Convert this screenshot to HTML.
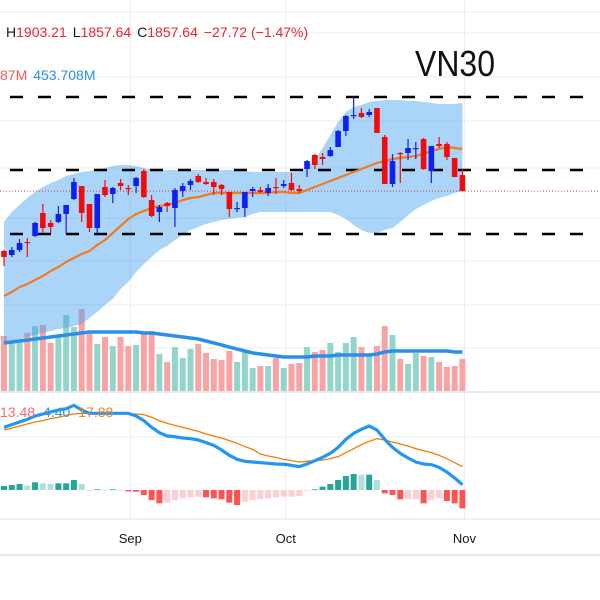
<!DOCTYPE html>
<html><head><meta charset="utf-8"><style>
html,body{margin:0;padding:0;background:#fff;width:600px;height:600px;overflow:hidden}
svg{display:block;font-family:"Liberation Sans",sans-serif}
</style></head><body>
<svg id="chart" width="600" height="600" viewBox="0 0 600 600" xmlns="http://www.w3.org/2000/svg">
<defs><clipPath id="mainClip"><rect x="0" y="0" width="600" height="391"/></clipPath></defs>
<g id="grid"></g>
<g id="vol"></g>
<g id="main" clip-path="url(#mainClip)"></g>
<g id="macd"></g>
<g id="axis"></g>
<text x="6" y="37" font-size="14" fill="#131722"><tspan>H</tspan><tspan fill="#e8262b">1903.21</tspan><tspan dx="6">L</tspan><tspan fill="#e8262b">1857.64</tspan><tspan dx="6">C</tspan><tspan fill="#e8262b">1857.64</tspan><tspan dx="6" fill="#e8262b">−27.72 (−1.47%)</tspan></text>
<text x="0" y="80" font-size="14"><tspan fill="#f05a5a">87M</tspan><tspan dx="6" fill="#2a8ff0">453.708M</tspan></text>
<text x="415" y="76" font-size="36" textLength="80" lengthAdjust="spacingAndGlyphs" fill="#111">VN30</text>
<text x="0" y="417" font-size="14"><tspan fill="#f26b73">13.48</tspan><tspan dx="8" fill="#3d8ee6">4.40</tspan><tspan dx="8" fill="#f08020">17.88</tspan></text>
</svg>
<script>
const opens=[1738,1730,1740,1756,1768,1814,1794,1796,1812,1842,1868,1832,1784,1866,1852,1874,1864,1868,1898,1840,1816,1834,1824,1858,1870,1888,1876,1876,1870,1856,1822,1824,1858,1860,1854,1866,1868,1874,1862,1902,1930,1926,1928,1946,1978,2008,2014,2010,2024,1966,1872,1934,1934,1942,1962,1898,1952,1952,1924,1890];
const highs=[1740,1746,1762,1764,1796,1832,1800,1828,1830,1884,1868,1832,1852,1880,1866,1882,1870,1886,1902,1850,1830,1836,1864,1874,1882,1892,1884,1882,1872,1856,1836,1856,1866,1866,1872,1884,1880,1894,1870,1920,1932,1934,1946,1980,2010,2046,2024,2022,2024,1970,1932,1936,1962,1956,1964,1948,1966,1956,1924,1902];
const lows=[1708,1726,1736,1726,1766,1774,1774,1794,1772,1840,1796,1776,1772,1846,1834,1860,1850,1854,1844,1806,1796,1816,1786,1846,1860,1874,1870,1850,1850,1806,1816,1806,1846,1854,1848,1852,1864,1858,1854,1886,1902,1910,1926,1946,1968,2002,2004,2006,1974,1872,1866,1874,1920,1922,1900,1874,1944,1920,1886,1858];
const closes=[1726,1740,1754,1754,1794,1784,1786,1812,1830,1876,1814,1784,1852,1850,1864,1868,1862,1884,1846,1808,1826,1828,1860,1868,1878,1876,1872,1866,1862,1822,1824,1856,1862,1856,1864,1864,1872,1860,1858,1918,1910,1922,1940,1978,2008,2010,2006,2016,1974,1872,1918,1932,1944,1944,1902,1948,1948,1926,1886,1858];
const maValues=[1648,1656,1666,1672,1680,1688,1698,1706,1716,1724,1732,1738,1750,1760,1774,1788,1802,1812,1818,1824,1828,1830,1834,1840,1844,1846,1850,1854,1854,1854,1854,1854,1854,1854,1854,1856,1856,1854,1854,1860,1866,1872,1878,1884,1890,1896,1902,1908,1914,1918,1922,1924,1926,1928,1932,1938,1942,1946,1944,1942];
const bandUpper=[1796,1816,1830,1844,1856,1866,1874,1880,1888,1892,1896,1898,1900,1904,1908,1910,1910,1908,1904,1900,1900,1900,1900,1900,1900,1900,1900,1900,1900,1900,1900,1898,1896,1896,1896,1896,1896,1896,1896,1908,1920,1944,1970,1996,2016,2026,2030,2036,2038,2040,2040,2040,2038,2038,2036,2034,2032,2032,2032,2034];
const bandLower=[1556,1558,1562,1566,1570,1574,1578,1582,1584,1588,1592,1604,1616,1630,1642,1662,1676,1696,1712,1726,1740,1748,1760,1770,1780,1786,1792,1796,1800,1802,1804,1806,1812,1816,1816,1816,1816,1816,1816,1816,1816,1816,1816,1810,1802,1790,1780,1774,1774,1780,1784,1796,1810,1822,1830,1838,1844,1848,1854,1858];
const volumes=[638,568,568,673,754,766,557,626,882,742,951,673,545,626,522,626,522,534,684,696,429,336,510,383,487,545,441,371,360,464,336,464,267,290,290,383,267,313,325,510,452,476,557,452,557,626,510,418,522,754,650,371,313,441,406,394,336,278,290,371];
const volUp=[0,1,1,0,1,0,0,1,1,1,0,0,1,0,1,0,0,1,0,0,1,0,1,1,1,0,0,0,0,0,1,1,1,0,1,0,1,0,0,1,0,0,1,1,1,1,0,1,0,0,1,0,1,1,0,1,0,0,0,0];
const volMA=[557,568,580,592,603,615,626,638,650,661,673,684,684,684,684,684,684,684,673,673,661,650,638,626,615,603,580,557,534,510,487,464,441,429,418,406,394,394,394,394,406,406,406,418,418,418,418,418,429,452,464,464,464,464,464,464,464,464,452,452];
const macdLine=[47,49,51,53,55.5,57,58.5,60,61,63.5,60,57.5,57.5,57.5,57.5,57.5,57.5,55.5,52,47,43,40.5,40,39,38.5,37.5,35.5,33.5,30,26,23,21.5,21,20.5,20,19.5,19.3,18.5,17.5,19.5,22,24.5,27.5,32,38,42.5,45.5,48,45,38,32,27.5,24,21,19.5,19,17,13.5,9,4];
const signalLine=[45,46.5,48,49.5,51,52,53.5,54.5,56,57,57.5,57.5,57.5,57.5,57.5,57,57,57,56.5,54.5,52,50,48.5,47,45.5,44,42,40.5,39,37,35,32.5,30.5,27,25.5,24.5,23,22,21,21.5,22,22.5,23.5,25,28,31,34,36.5,38.5,37.5,36,34.5,33,31,29.5,28,26,23.5,20.5,17.5];
const histValues=[3,3.75,4.5,3.25,5.75,5,4.5,5,5,7.5,4.5,0,0.5,0.25,0.5,0.25,-1,-1.25,-3.75,-7.5,-10,-9.5,-7.5,-6.25,-5.5,-5,-5.5,-6.25,-7,-9.5,-11.25,-8.75,-7.5,-6.75,-6.25,-5.5,-5,-5,-4.5,-0.5,0.5,2.5,4.5,7.5,10.5,12,11.5,11.5,7.5,-2.5,-3.75,-7,-7,-7,-10,-7.5,-6.25,-8.25,-10,-13.75];
const levelLines=[2046,1900,1772];
const lastPrice=1857.64;
const monthLabels=["Sep","Oct","Nov"];
const monthIndex=[16,36,59];

const NS="http://www.w3.org/2000/svg";
function xOf(i){return 4+i*7.77;}
function yPrice(p){return (2240-p)/2;}
function yVol(v){return 391-v/11.6;}
function yMacd(v){return 490-v/0.75;}
function mk(tag,attrs,parent){const e=document.createElementNS(NS,tag);for(const k in attrs)e.setAttribute(k,attrs[k]);parent.appendChild(e);return e;}
const grid=document.getElementById('grid'),main=document.getElementById('main'),vol=document.getElementById('vol'),macd=document.getElementById('macd'),axis=document.getElementById('axis');

[12,33,77,121,168,218,261,305,348,437].forEach(y=>{
  const l=mk('line',{x1:0,x2:600,y1:y,y2:y,stroke:'#ececf0','stroke-width':1},grid);
  
  
});
monthIndex.forEach(i=>{
  const l=mk('line',{x1:xOf(i)+2,x2:xOf(i)+2,y1:0,y2:519,stroke:'#ececf0','stroke-width':1},grid);
  
  
});
const sep=mk('line',{x1:0,x2:600,y1:392,y2:392,stroke:'#e4e4e8','stroke-width':1.5},grid);



volumes.forEach((v,i)=>{
  const r=mk('rect',{x:xOf(i)-3,y:yVol(v),width:6,height:391-yVol(v),fill:volUp[i]?'#93d5cb':'#f9a3a5'},vol);
  
  
});
const vma=mk('path',{d:volMA.map((v,i)=>(i?'L':'M')+xOf(i)+','+yVol(v)).join(''),fill:'none',stroke:'#2a8fe8','stroke-width':3.5,'stroke-linejoin':'round'},vol);



let bd='M'+bandUpper.map((v,i)=>xOf(i)+','+yPrice(v)).join('L');
for(let i=bandLower.length-1;i>=0;i--)bd+='L'+xOf(i)+','+yPrice(bandLower[i]);
const band=mk('path',{d:bd+'Z',fill:'rgba(66,160,240,0.45)',stroke:'none'},main);



levelLines.forEach(p=>{
  const l=mk('line',{x1:10,x2:590,y1:yPrice(p),y2:yPrice(p),stroke:'#000','stroke-width':2.6,'stroke-dasharray':'13 15'},main);
  
  
});
const lp=mk('line',{x1:0,x2:600,y1:yPrice(lastPrice),y2:yPrice(lastPrice),stroke:'#e53935','stroke-width':1,'stroke-dasharray':'1 2'},main);



const ma=mk('path',{d:maValues.map((v,i)=>(i?'L':'M')+xOf(i)+','+yPrice(v)).join(''),fill:'none',stroke:'#f27a21','stroke-width':2.2,'stroke-linejoin':'round'},main);



opens.forEach((o,i)=>{
  const c=closes[i],up=c>=o,col=up?'#1020f0':'#f00c0c',x=xOf(i);
  const g=mk('g',{},main);
  
  
  mk('line',{x1:x,x2:x,y1:yPrice(highs[i]),y2:yPrice(lows[i]),stroke:col,'stroke-width':1.2},g);
  const t=yPrice(Math.max(o,c)),b=yPrice(Math.min(o,c));
  mk('rect',{x:x-2.8,y:t,width:5.6,height:Math.max(1.2,b-t),fill:col},g);
});

histValues.forEach((h,i)=>{
  const prev=i?histValues[i-1]:h;
  let col;
  if(h>=0)col=h>=prev?'#26a69a':'#b2dfdb';else col=h<prev?'#ff5252':'#ffcdd2';
  const y0=yMacd(0),y1=yMacd(h);
  const r=mk('rect',{x:xOf(i)-3,y:Math.min(y0,y1),width:6,height:Math.max(0.8,Math.abs(y1-y0)),fill:col},macd);
  
  
});
const sig=mk('path',{d:signalLine.map((v,i)=>(i?'L':'M')+xOf(i)+','+yMacd(v)).join(''),fill:'none',stroke:'#f57c00','stroke-width':1.3},macd);


const ml=mk('path',{d:macdLine.map((v,i)=>(i?'L':'M')+xOf(i)+','+yMacd(v)).join(''),fill:'none',stroke:'#2196f3','stroke-width':3.2,'stroke-linejoin':'round'},macd);



const al=mk('line',{x1:0,x2:600,y1:519,y2:519,stroke:'#e4e4e8','stroke-width':1},axis);


const bl=mk('line',{x1:0,x2:600,y1:555,y2:555,stroke:'#e8e8ec','stroke-width':2},axis);


monthLabels.forEach((m,i)=>{
  const t=mk('text',{x:xOf(monthIndex[i])+2,y:543,'text-anchor':'middle','font-size':13,fill:'#131722'},axis);
  t.textContent=m;
  
  
});
</script>
</body></html>
